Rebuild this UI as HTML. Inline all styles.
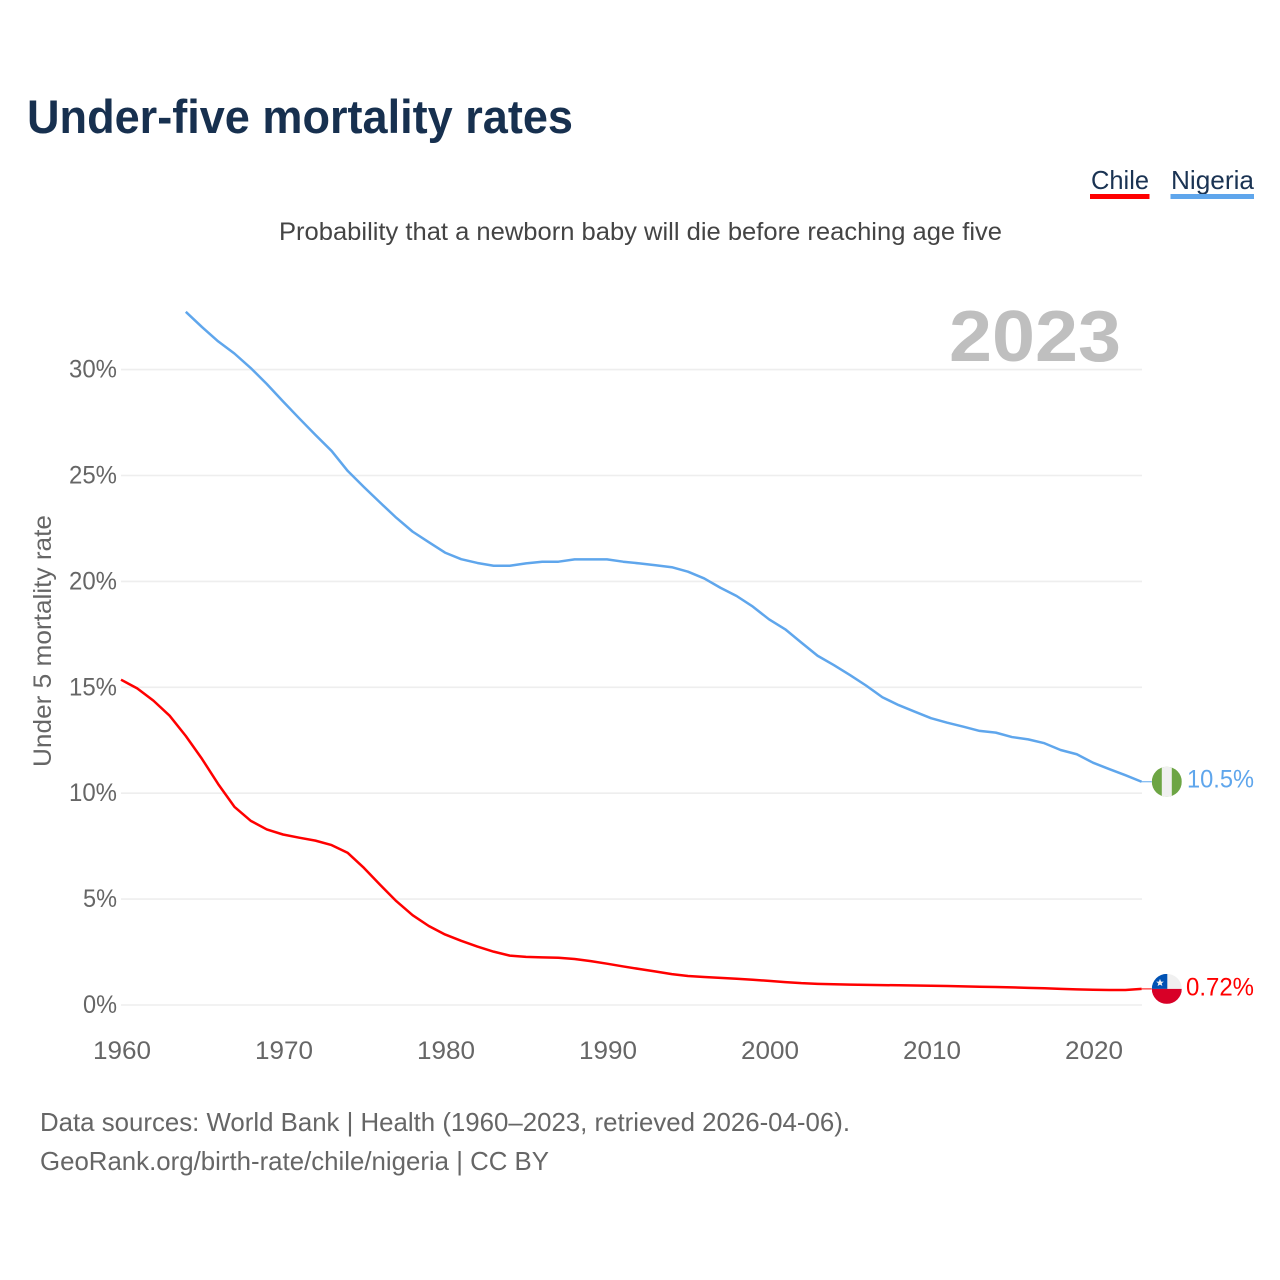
<!DOCTYPE html>
<html lang="en">
<head>
<meta charset="utf-8">
<title>Under-five mortality rates</title>
<style>
html,body{margin:0;padding:0;background:#fff;}
svg{display:block;font-family:"Liberation Sans",sans-serif;}
</style>
</head>
<body>
<svg id="chart" xmlns="http://www.w3.org/2000/svg" width="1280" height="1280" viewBox="0 0 1280 1280">
  <defs>
    <clipPath id="flag-clip"><circle cx="0" cy="0" r="15"/></clipPath>
  </defs>
  <rect x="0" y="0" width="1280" height="1280" fill="#fff"/>
  <text x="27" y="133" font-size="47" font-weight="700" fill="#17304f" textLength="546" lengthAdjust="spacingAndGlyphs">Under-five mortality rates</text>
  <text x="1091" y="189" font-size="26" fill="#1a3353" textLength="58" lengthAdjust="spacingAndGlyphs">Chile</text>
  <rect x="1090" y="194" width="59.5" height="5" fill="#ff0000"/>
  <text x="1171" y="189" font-size="26" fill="#1a3353" textLength="83" lengthAdjust="spacingAndGlyphs">Nigeria</text>
  <rect x="1170.5" y="194" width="83.5" height="5" fill="#5fa6ec"/>
  <text x="279" y="240" font-size="25" fill="#444444" textLength="723" lengthAdjust="spacingAndGlyphs">Probability that a newborn baby will die before reaching age five</text>
  <text x="1121" y="361" font-size="72" font-weight="700" fill="#bfbfbf" text-anchor="end" textLength="172" lengthAdjust="spacingAndGlyphs">2023</text>
  <text transform="translate(51 767) rotate(-90)" x="0" y="0" font-size="25" fill="#666666" textLength="252" lengthAdjust="spacingAndGlyphs">Under 5 mortality rate</text>
  <g id="grid"></g>
  <g id="y-ticks"></g>
  <g id="x-ticks"></g>
  <g id="series"></g>
  <text x="40" y="1131" font-size="26" fill="#666666" textLength="810" lengthAdjust="spacingAndGlyphs">Data sources: World Bank | Health (1960–2023, retrieved 2026-04-06).</text>
  <text x="40" y="1170" font-size="26" fill="#666666" textLength="509" lengthAdjust="spacingAndGlyphs">GeoRank.org/birth-rate/chile/nigeria | CC BY</text>
</svg>
<script>
const years = [1960,1961,1962,1963,1964,1965,1966,1967,1968,1969,1970,1971,1972,1973,1974,1975,1976,1977,1978,1979,1980,1981,1982,1983,1984,1985,1986,1987,1988,1989,1990,1991,1992,1993,1994,1995,1996,1997,1998,1999,2000,2001,2002,2003,2004,2005,2006,2007,2008,2009,2010,2011,2012,2013,2014,2015,2016,2017,2018,2019,2020,2021,2022,2023];
const chileValues = [15.36,14.95,14.37,13.66,12.70,11.62,10.43,9.36,8.70,8.29,8.05,7.90,7.76,7.55,7.18,6.47,5.67,4.90,4.24,3.73,3.33,3.03,2.76,2.52,2.33,2.27,2.25,2.23,2.17,2.07,1.95,1.82,1.70,1.58,1.46,1.37,1.32,1.28,1.24,1.19,1.14,1.08,1.03,1.00,0.98,0.96,0.95,0.94,0.93,0.92,0.91,0.90,0.88,0.86,0.85,0.83,0.81,0.79,0.76,0.74,0.72,0.71,0.71,0.76];
const nigeriaValues = [null,null,null,null,32.73,32.01,31.33,30.76,30.08,29.32,28.50,27.70,26.92,26.16,25.21,24.45,23.72,23.00,22.35,21.85,21.36,21.05,20.87,20.74,20.74,20.85,20.93,20.93,21.04,21.04,21.04,20.93,20.85,20.76,20.67,20.46,20.14,19.70,19.31,18.81,18.21,17.74,17.11,16.49,16.05,15.58,15.08,14.53,14.16,13.85,13.54,13.33,13.14,12.94,12.86,12.65,12.54,12.36,12.04,11.84,11.44,11.14,10.85,10.54];
const yTickValues = [0,5,10,15,20,25,30];
const yTickLabels = ["0%","5%","10%","15%","20%","25%","30%"];
const xTickValues = [1960,1970,1980,1990,2000,2010,2020];
const xTickLabels = ["1960","1970","1980","1990","2000","2010","2020"];
const chileEndLabel = "0.72%";
const nigeriaEndLabel = "10.5%";

const NS = "http://www.w3.org/2000/svg";
function xScale(year){ return 121 + (year - 1960) * 16.2; }
function yScale(v){ return 1005 - v * 21.18; }
function make(tag, attrs, parent){
  const el = document.createElementNS(NS, tag);
  for (const k in attrs) el.setAttribute(k, attrs[k]);
  parent.appendChild(el);
  return el;
}
const grid = document.getElementById("grid");
const yTicks = document.getElementById("y-ticks");
const xTicks = document.getElementById("x-ticks");
const seriesGroup = document.getElementById("series");

yTickValues.forEach(function(v, i){
  const line = make("line", {x1:121, x2:1142, y1:yScale(v), y2:yScale(v), stroke:"#eeeeee", "stroke-width":1.6}, grid);
  
  
  const label = make("text", {x:117, y:yScale(v)+8, "font-size":25, fill:"#666666", "text-anchor":"end", textLength: yTickLabels[i].length === 2 ? 34 : 48, lengthAdjust:"spacingAndGlyphs"}, yTicks);
  label.textContent = yTickLabels[i];
  
  
});

xTickValues.forEach(function(v, i){
  const label = make("text", {x:xScale(v)+1, y:1059, "font-size":25, fill:"#666666", "text-anchor":"middle", textLength:58, lengthAdjust:"spacingAndGlyphs"}, xTicks);
  label.textContent = xTickLabels[i];
  
  
});

function linePoints(values){
  const pts = [];
  values.forEach(function(v, i){
    if (v !== null) pts.push(xScale(years[i]).toFixed(2) + "," + yScale(v).toFixed(2));
  });
  return pts.join(" ");
}

const nigeriaLine = make("polyline", {points:linePoints(nigeriaValues), fill:"none", stroke:"#5fa6ec", "stroke-width":2.5, "stroke-linejoin":"round"}, seriesGroup);


const chileLine = make("polyline", {points:linePoints(chileValues), fill:"none", stroke:"#ff0000", "stroke-width":2.5, "stroke-linejoin":"round"}, seriesGroup);



const lastX = xScale(years[years.length - 1]);
const flagX = 1166.8;
const nigeriaY = yScale(nigeriaValues[nigeriaValues.length - 1]);
const chileY = yScale(chileValues[chileValues.length - 1]);

const nigeriaConnector = make("line", {x1:lastX, x2:flagX-15, y1:nigeriaY, y2:nigeriaY, stroke:"#5fa6ec", "stroke-width":1}, seriesGroup);


const chileConnector = make("line", {x1:lastX, x2:flagX-15, y1:chileY, y2:chileY, stroke:"#ff0000", "stroke-width":1}, seriesGroup);



const nigeriaFlag = make("g", {transform:"translate(" + flagX + " " + nigeriaY + ")", "clip-path":"url(#flag-clip)"}, seriesGroup);


make("rect", {x:-15, y:-15, width:30, height:30, fill:"#6da544"}, nigeriaFlag);
make("rect", {x:-5, y:-15, width:10, height:30, fill:"#f0f0f0"}, nigeriaFlag);

const chileFlag = make("g", {transform:"translate(" + flagX + " " + chileY + ")", "clip-path":"url(#flag-clip)"}, seriesGroup);


make("rect", {x:-15, y:-15, width:30, height:15, fill:"#f0f0f0"}, chileFlag);
make("rect", {x:-15, y:-15, width:15.5, height:15, fill:"#0052b4"}, chileFlag);
make("rect", {x:-15, y:0, width:30, height:15, fill:"#d80027"}, chileFlag);
make("polygon", {points:"-6.8,-10 -5.7,-7.3 -3,-7.3 -5.1,-5.5 -4.4,-2.9 -6.8,-4.3 -9.2,-2.9 -8.5,-5.5 -10.6,-7.3 -7.9,-7.3", fill:"#f0f0f0"}, chileFlag);

const nigeriaEnd = make("text", {x:1254, y:nigeriaY+5.5, "font-size":25, fill:"#5fa6ec", "text-anchor":"end", textLength:67, lengthAdjust:"spacingAndGlyphs"}, seriesGroup);
nigeriaEnd.textContent = nigeriaEndLabel;


const chileEnd = make("text", {x:1254, y:chileY+6.5, "font-size":25, fill:"#ff0000", "text-anchor":"end", textLength:68, lengthAdjust:"spacingAndGlyphs"}, seriesGroup);
chileEnd.textContent = chileEndLabel;


</script>
</body>
</html>
